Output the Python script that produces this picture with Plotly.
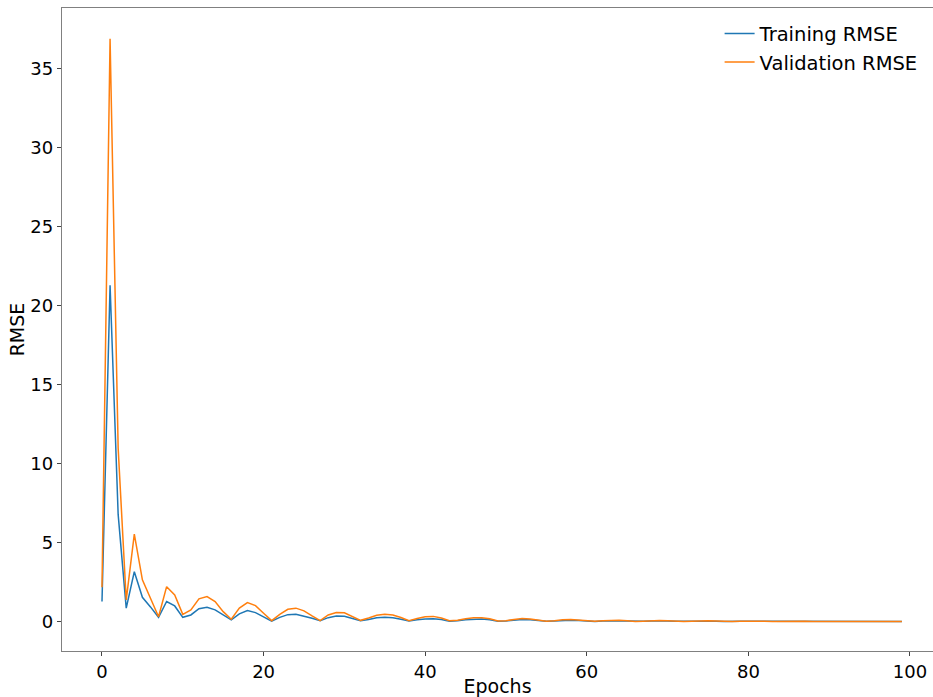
import plotly.graph_objects as go

epochs = list(range(100))

train_rmse = [
    1.29, 21.3, 6.8, 0.87, 3.18, 1.56, 0.95, 0.29, 1.29, 1.01,
    0.29, 0.44, 0.84, 0.93, 0.76, 0.44, 0.13, 0.51, 0.72, 0.59,
    0.29, 0.04, 0.29, 0.46, 0.49, 0.38, 0.23, 0.08, 0.27, 0.37,
    0.36, 0.22, 0.08, 0.15, 0.27, 0.30, 0.27, 0.17, 0.06, 0.13,
    0.19, 0.20, 0.15, 0.05, 0.07, 0.14, 0.18, 0.18, 0.14, 0.05,
    0.06, 0.12, 0.15, 0.14, 0.10, 0.04, 0.06, 0.10, 0.11, 0.09,
    0.05, 0.03, 0.06, 0.08, 0.08, 0.06, 0.03, 0.04, 0.06, 0.07,
    0.06, 0.04, 0.02, 0.04, 0.05, 0.06, 0.05, 0.03, 0.02, 0.04,
    0.05, 0.05, 0.03, 0.02, 0.03, 0.04, 0.04, 0.03, 0.02, 0.02,
    0.03, 0.03, 0.03, 0.02, 0.02, 0.03, 0.03, 0.02, 0.02, 0.02,
]

val_rmse = [
    2.19, 36.9, 11.0, 1.39, 5.55, 2.66, 1.50, 0.33, 2.23, 1.71,
    0.48, 0.76, 1.46, 1.60, 1.29, 0.65, 0.17, 0.87, 1.22, 1.03,
    0.55, 0.08, 0.48, 0.80, 0.87, 0.70, 0.38, 0.08, 0.44, 0.60,
    0.58, 0.35, 0.10, 0.25, 0.42, 0.49, 0.44, 0.28, 0.08, 0.22,
    0.33, 0.35, 0.25, 0.07, 0.10, 0.20, 0.26, 0.27, 0.20, 0.06,
    0.08, 0.15, 0.21, 0.19, 0.12, 0.04, 0.08, 0.14, 0.15, 0.12,
    0.06, 0.04, 0.08, 0.11, 0.11, 0.08, 0.03, 0.05, 0.08, 0.09,
    0.08, 0.05, 0.02, 0.05, 0.07, 0.07, 0.06, 0.03, 0.02, 0.05,
    0.06, 0.06, 0.04, 0.02, 0.03, 0.05, 0.05, 0.04, 0.02, 0.03,
    0.04, 0.04, 0.03, 0.02, 0.02, 0.03, 0.03, 0.03, 0.02, 0.02,
]

x_ticks = [0, 20, 40, 60, 80, 100]
y_ticks = [0, 5, 10, 15, 20, 25, 30, 35]

FONT = "DejaVu Sans"
AX = "#808080"

fig = go.Figure()
fig.add_trace(go.Scatter(x=epochs, y=train_rmse, mode="lines", name="Training RMSE",
                         line=dict(color="#1f77b4", width=1.5)))
fig.add_trace(go.Scatter(x=epochs, y=val_rmse, mode="lines", name="Validation RMSE",
                         line=dict(color="#ff7f0e", width=1.5)))

fig.update_layout(
    width=933, height=697,
    margin=dict(l=62, r=0, t=8, b=46, autoexpand=False),
    paper_bgcolor="white", plot_bgcolor="white",
    font=dict(family=FONT, size=18, color="#000000"),
    showlegend=True,
    legend=dict(x=0.755, y=0.99, xanchor="left", yanchor="top",
                bgcolor="rgba(0,0,0,0)", font=dict(size=19.5, family=FONT),
                itemwidth=30, tracegroupgap=0),
    xaxis=dict(range=[-4.95, 102.85], tickvals=x_ticks, ticktext=[str(v) for v in x_ticks],
               showgrid=False, zeroline=False, showline=True, linecolor=AX, linewidth=1.3,
               mirror=True, ticks="outside", ticklen=4, tickcolor="#444", tickwidth=1,
               automargin=False, tickfont=dict(size=18),
               title=dict(text="Epochs", font=dict(size=19, family=FONT), standoff=4)),
    yaxis=dict(range=[-1.84, 38.84], tickvals=y_ticks, ticktext=[str(v) for v in y_ticks],
               showgrid=False, zeroline=False, showline=True, linecolor=AX, linewidth=1.3,
               mirror=False, ticks="outside", ticklen=4, tickcolor="#444", tickwidth=1,
               automargin=False, tickfont=dict(size=18),
               title=dict(text="RMSE", font=dict(size=19, family=FONT), standoff=0)),
)

fig.write_html("out.html",
               config={"displayModeBar": False},
               post_script="document.body.style.margin='0';document.body.style.overflow='hidden';")
